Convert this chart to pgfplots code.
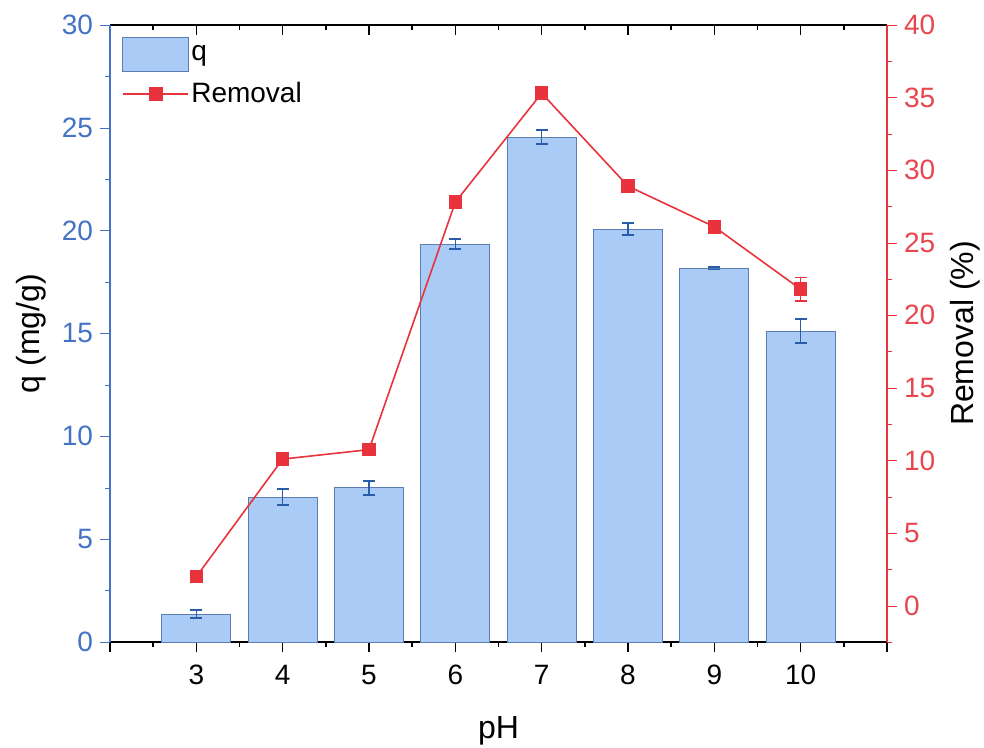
\documentclass[border=0pt]{standalone}
\usepackage{pgfplots}
\pgfplotsset{compat=1.18}
\usepackage{fontspec}
\setmainfont{Liberation Sans}
\definecolor{qblue}{HTML}{4472C4}
\definecolor{barfill}{HTML}{A9CBF5}
\definecolor{baredge}{HTML}{5B7DB5}
\definecolor{errblue}{HTML}{2A5CAA}
\definecolor{remred}{HTML}{E8333C}
\definecolor{redtick}{HTML}{E8464E}
\pgfplotstableread{
x q qe
3 1.36 0.2
4 7.05 0.4
5 7.49 0.35
6 19.35 0.25
7 24.55 0.35
8 20.08 0.3
9 18.18 0.06
10 15.12 0.58
}\qtab
\pgfplotstableread{
x r re
3 2.0 0
4 10.1 0.4
5 10.75 0.3
6 27.8 0
7 35.3 0
8 28.9 0
9 26.1 0
10 21.8 0.8
}\rtab
\begin{document}
\begin{tikzpicture}
\pgfplotsset{
  common/.style={
    width=388.5pt, height=308.5pt, scale only axis,
    xmin=2, xmax=11,
    major tick length=5pt, minor tick length=2.5pt,
    tick label style={font=\fontsize{14}{16}\selectfont},
    label style={font=\fontsize{16}{19}\selectfont},
    /pgf/number format/assume math mode=true,
  }
}
\begin{axis}[common,
  axis x line*=top, axis y line=none,
  tick align=inside,
  ymin=0, ymax=30,
  xtick={2,3,4,5,6,7,8,9,10,11},
  xticklabel={\phantom{0}},
  minor xtick={2.5,3.5,4.5,5.5,6.5,7.5,8.5,9.5,10.5},
  x axis line style={black, line width=0.8pt},
  xtick style={black, line width=0.8pt},
]
\addplot[draw=none] coordinates {(2,0) (11,30)};
\end{axis}
\begin{axis}[common,
  axis x line*=bottom, axis y line*=left,
  tick align=outside,
  ymin=0, ymax=30,
  xtick={2,...,11}, xticklabels={,3,4,5,6,7,8,9,10,},
  minor xtick={2.5,3.5,...,10.5},
  ytick={0,5,...,30}, minor ytick={2.5,7.5,...,27.5},
  y axis line style={qblue, line width=0.6pt},
  x axis line style={black, line width=0.8pt},
  ytick style={qblue},
  xtick style={black, line width=0.8pt},
  yticklabel style={text=qblue},
  xticklabel style={yshift=-3pt},
  xlabel={pH}, ylabel={q (mg/g)},
  xlabel style={yshift=-9pt},
  ylabel style={yshift=1pt},
  legend style={draw=none, fill=none, at={(0.007,0.988)}, anchor=north west,
    font=\fontsize{14}{16}\selectfont, row sep=4pt,
    nodes={inner sep=1pt}},
  legend cell align=left,
]
\coordinate (bl) at (rel axis cs:0,0);
\coordinate (tr) at (rel axis cs:1,1);
\addplot[ybar, bar width=0.8, fill=barfill, draw=baredge, line width=0.5pt,
  legend image code/.code={\draw[fill=barfill, draw=baredge] (0cm,-0.3cm) rectangle (1.15cm,0.3cm);},
  error bars/.cd, y dir=both, y explicit,
  error bar style={errblue, line width=0.8pt},
  error mark options={rotate=90, mark size=3pt, errblue, line width=0.8pt}]
  table[x=x, y=q, y error=qe]{\qtab};
\addlegendentry{q}
\addlegendimage{remred, line width=1pt,
  legend image code/.code={\draw[remred, line width=1pt] (0cm,0cm) -- (1.15cm,0cm);
    \fill[remred] (0.575cm,0cm) +(-3pt,-3pt) rectangle +(3pt,3pt);}}
\addlegendentry{Removal}
\end{axis}
\begin{axis}[common,
  axis x line=none, axis y line*=right,
  tick align=outside,
  ymin=-2.5, ymax=40,
  ytick={0,5,...,40}, minor ytick={-2.5,2.5,...,37.5},
  y axis line style={remred, line width=0.6pt},
  ytick style={remred},
  yticklabel style={text=redtick},
  ylabel={Removal (\%)},
  ylabel style={yshift=-0.5pt},
]
\addplot[remred, line width=0.8pt, mark=square*, mark size=3pt,
  error bars/.cd, y dir=both, y explicit,
  error bar style={remred, line width=0.8pt},
  error mark options={rotate=90, mark size=3pt, remred, line width=0.8pt}]
  table[x=x, y=r, y error=re]{\rtab};
\end{axis}
\pgfresetboundingbox
\path ([xshift=-55pt,yshift=-52.5pt]bl) rectangle ([xshift=48.5pt,yshift=12.5pt]tr);
\end{tikzpicture}
\end{document}
